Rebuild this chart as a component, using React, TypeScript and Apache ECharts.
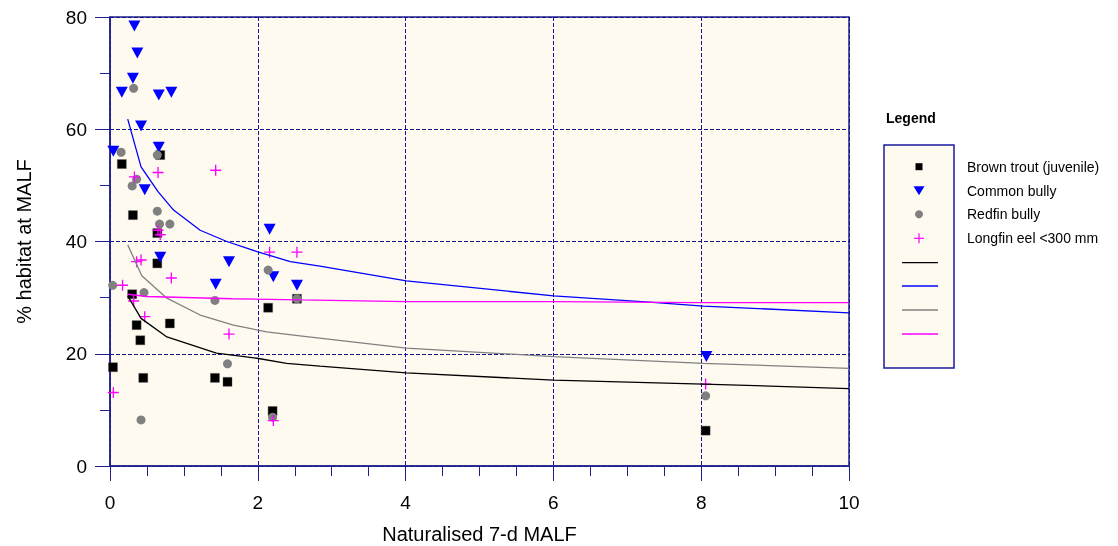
import React, { useEffect, useRef } from "react";
import * as echarts from "echarts";

const xTicks = [0, 2, 4, 6, 8, 10];
const yTicks = [0, 20, 40, 60, 80];

const brownTrout: [number, number][] = [
  [0.04, 17.6], [0.16, 53.8], [0.3, 30.6], [0.31, 44.7], [0.36, 25.1], [0.41, 22.4],
  [0.45, 15.7], [0.68, 55.4], [0.64, 36.1], [0.64, 41.5], [0.81, 25.4], [1.42, 15.7],
  [1.59, 15.0], [2.14, 28.2], [2.2, 9.8], [2.53, 29.8], [8.06, 6.3],
];
const commonBully: [number, number][] = [
  [0.33, 78.4], [0.37, 73.6], [0.31, 69.1], [0.16, 66.6], [0.66, 66.1], [0.83, 66.6],
  [0.42, 60.6], [0.045, 56.1], [0.66, 56.8], [0.47, 49.2], [0.68, 37.2], [1.61, 36.4],
  [1.43, 32.4], [2.16, 42.2], [2.21, 33.7], [2.53, 32.2], [8.07, 19.5],
];
const redfinBully: [number, number][] = [
  [0.32, 67.3], [0.15, 55.9], [0.64, 55.4], [0.36, 51.1], [0.3, 49.9], [0.64, 45.4],
  [0.67, 43.1], [0.81, 43.1], [0.036, 32.2], [0.46, 30.9], [1.42, 29.5], [2.14, 34.9],
  [2.53, 29.8], [1.59, 18.2], [0.42, 8.2], [2.2, 8.7], [8.06, 12.5],
];
const longfinEel: [number, number][] = [
  [0.33, 51.5], [0.65, 52.3], [1.43, 52.7], [0.65, 42.0], [0.68, 41.2], [0.36, 36.4],
  [0.42, 36.7], [0.83, 33.5], [0.17, 32.2], [0.32, 29.4], [0.47, 26.6], [1.61, 23.5],
  [0.045, 13.1], [2.16, 38.1], [2.53, 38.1], [2.21, 8.1], [8.06, 14.6],
];

const brownFit: [number, number][] = [
  [0.24, 30.3], [0.42, 26.3], [0.77, 23.0], [1.44, 20.1], [1.99, 19.2], [2.39, 18.3],
  [2.84, 17.8], [4.01, 16.6], [6.0, 15.3], [8.03, 14.6], [10, 13.8],
];
const commonFit: [number, number][] = [
  [0.24, 61.8], [0.42, 53.3], [0.65, 48.9], [0.86, 45.6], [1.22, 42.0], [1.58, 40.0],
  [1.99, 38.2], [2.44, 36.4], [2.84, 35.6], [4.01, 33.0], [6.0, 30.3], [7.3, 29.2],
  [8.03, 28.5], [10, 27.3],
];
const redfinFit: [number, number][] = [
  [0.24, 39.4], [0.43, 33.9], [0.77, 29.9], [1.22, 26.9], [1.67, 25.1], [2.12, 23.9],
  [2.57, 23.2], [4.01, 21.0], [6.0, 19.5], [8.03, 18.3], [10, 17.4],
];
const longfinFit: [number, number][] = [
  [0.24, 30.6], [0.5, 30.2], [1.65, 29.8], [2.57, 29.6], [4.0, 29.3], [6.0, 29.3],
  [8.0, 29.1], [10, 29.1],
];

const legendLabels = [
  "Brown trout (juvenile)",
  "Common bully",
  "Redfin bully",
  "Longfin eel <300 mm",
];

const FONT = "'Liberation Sans', Arial, sans-serif";
const NAVY = "#20208c";
const GRIDC = "#14148f";
const BG = "#FEFAF0";
const CROSS =
  "path://M4.4,0 h1.2 v4.4 h4.4 v1.2 h-4.4 v4.4 h-1.2 v-4.4 h-4.4 v-1.2 h4.4 z";

export default function App() {
  const ref = useRef<HTMLDivElement>(null);

  useEffect(() => {
    if (!ref.current) return;
    const chart = echarts.init(ref.current, null, { renderer: "svg" });

    const lx = 919;
    const rows = [166.7, 190.7, 214.3, 238.3];
    const lineRows = [262.7, 286, 310, 334];
    const lineColors = ["#000000", "#0000ff", "#808080", "#ff00ff"];

    const graphic: any[] = [
      {
        type: "text",
        left: 886,
        top: 111,
        style: { text: "Legend", font: `bold 14px ${FONT}`, fill: "#000" },
      },
      {
        type: "rect",
        shape: { x: 884, y: 145, width: 70, height: 223 },
        style: { fill: BG, stroke: "#1a1aa0", lineWidth: 1.5 },
      },
      {
        type: "rect",
        shape: { x: lx - 3.5, y: rows[0] - 3.5, width: 7, height: 7 },
        style: { fill: "#000" },
      },
      {
        type: "polygon",
        shape: { points: [[lx - 5.5, rows[1] - 4.5], [lx + 5.5, rows[1] - 4.5], [lx, rows[1] + 4.5]] },
        style: { fill: "#0000ff" },
      },
      {
        type: "circle",
        shape: { cx: lx, cy: rows[2], r: 4 },
        style: { fill: "#808080" },
      },
      {
        type: "line",
        shape: { x1: lx - 5, y1: rows[3], x2: lx + 5, y2: rows[3] },
        style: { stroke: "#ff00ff", lineWidth: 1.2 },
      },
      {
        type: "line",
        shape: { x1: lx, y1: rows[3] - 5, x2: lx, y2: rows[3] + 5 },
        style: { stroke: "#ff00ff", lineWidth: 1.2 },
      },
      ...lineRows.map((y, i) => ({
        type: "line",
        shape: { x1: 902, y1: y, x2: 938, y2: y },
        style: { stroke: lineColors[i], lineWidth: 1.3 },
      })),
      ...legendLabels.map((t, i) => ({
        type: "text",
        x: 967,
        y: rows[i],
        style: {
          text: t,
          font: `14px ${FONT}`,
          fill: "#000",
          verticalAlign: "middle",
          align: "left",
        },
      })),
    ];

    const lineSeries = (name: string, data: [number, number][], color: string) => ({
      name,
      type: "line",
      data,
      showSymbol: false,
      symbol: "none",
      smooth: false,
      lineStyle: { color, width: 1.3 },
      z: 5,
    });

    chart.setOption({
      animation: false,
      textStyle: { fontFamily: FONT },
      grid: {
        left: 110,
        right: 269,
        top: 17,
        bottom: 80,
        outerBoundsMode: "none",
        containLabel: false,
        show: true,
        backgroundColor: BG,
        borderColor: NAVY,
        borderWidth: 1.5,
      },
      xAxis: {
        type: "value",
        min: xTicks[0],
        max: xTicks[xTicks.length - 1],
        interval: xTicks[1] - xTicks[0],
        name: "Naturalised 7-d MALF",
        nameLocation: "middle",
        nameGap: 58,
        nameTextStyle: { fontSize: 20, color: "#000", fontFamily: FONT },
        axisLine: { lineStyle: { color: NAVY, width: 1.5 } },
        axisTick: { length: 15, lineStyle: { color: NAVY, width: 1 } },
        minorTick: { show: true, splitNumber: 4, length: 10, lineStyle: { color: NAVY, width: 1 } },
        axisLabel: { fontSize: 19, color: "#000", margin: 27, fontFamily: FONT },
        splitLine: { show: true, lineStyle: { color: GRIDC, type: [4, 2], width: 1 } },
      },
      yAxis: {
        type: "value",
        min: yTicks[0],
        max: yTicks[yTicks.length - 1],
        interval: yTicks[1] - yTicks[0],
        name: "% habitat at MALF",
        nameLocation: "middle",
        nameRotate: 90,
        nameGap: 76,
        nameTextStyle: { fontSize: 20, color: "#000", fontFamily: FONT },
        axisLine: { lineStyle: { color: NAVY, width: 1.5 } },
        axisTick: { length: 15, lineStyle: { color: NAVY, width: 1 } },
        minorTick: { show: true, splitNumber: 2, length: 10, lineStyle: { color: NAVY, width: 1 } },
        axisLabel: { fontSize: 19, color: "#000", margin: 23, fontFamily: FONT },
        splitLine: { show: true, lineStyle: { color: GRIDC, type: [4, 2], width: 1 } },
      },
      graphic,
      series: [
        {
          name: legendLabels[0],
          type: "scatter",
          data: brownTrout,
          symbol: "rect",
          symbolSize: 9,
          itemStyle: { color: "#000", borderColor: "#555", borderWidth: 0.4, opacity: 1 },
          z: 2,
        },
        {
          name: legendLabels[1],
          type: "scatter",
          data: commonBully,
          symbol: "triangle",
          symbolRotate: 180,
          symbolSize: [12, 11],
          itemStyle: { color: "#0000ff", opacity: 1 },
          z: 3,
        },
        {
          name: legendLabels[2],
          type: "scatter",
          data: redfinBully,
          symbol: "circle",
          symbolSize: 9,
          itemStyle: { color: "#808080", opacity: 1 },
          z: 3,
        },
        {
          name: legendLabels[3],
          type: "scatter",
          data: longfinEel,
          symbol: CROSS,
          symbolSize: 11,
          itemStyle: { color: "#ff00ff", opacity: 1 },
          z: 4,
        },
        lineSeries("Brown trout fit", brownFit, "#000000"),
        lineSeries("Common bully fit", commonFit, "#0000ff"),
        lineSeries("Redfin bully fit", redfinFit, "#808080"),
        lineSeries("Longfin eel fit", longfinFit, "#ff00ff"),
      ],
    });

    return () => chart.dispose();
  }, []);

  return (
    <div
      ref={ref}
      style={{ position: "fixed", left: 0, top: 0, width: 1118, height: 546 }}
    />
  );
}
